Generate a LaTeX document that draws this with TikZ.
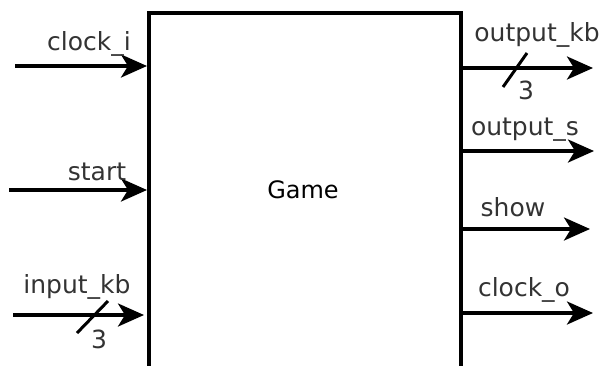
\documentclass[tikz,border=0pt]{standalone}
\usepackage{fontspec}
\setmainfont{DejaVu Sans}
\usetikzlibrary{arrows.meta}
\definecolor{labelgray}{HTML}{333333}
\tikzset{
  sig/.style={line width=3.5pt, -{Stealth[length=26pt,width=23pt,inset=7pt]}},
  lbl/.style={text=labelgray, font=\fontsize{25}{25}\selectfont, inner sep=0pt},
  bus/.style={line width=3pt},
  gamebox/.style={draw, line width=3.5pt, minimum width=312pt, minimum height=400pt, inner sep=0pt},
}
\begin{document}
\begin{tikzpicture}[x=1pt,y=-1pt]
\path[use as bounding box, clip] (0,0) rectangle (601,365);
\node[gamebox, anchor=north west] (game) at (147,11) {};
\node[font=\fontsize{24}{24}\selectfont, inner sep=0pt] (gamelbl) at (303,190) {Game};
% inputs
\coordinate (ci) at (15,66);
\coordinate (st) at (9,190);
\coordinate (ik) at (13,315);
\draw[sig] (ci) -- (ci -| game.west);
\draw[sig] (st) -- (st -| game.west);
\draw[sig] (ik) -- ([xshift=-3pt]ik -| game.west);
\node[lbl] (lci) at (89,44) {clock\_i};
\node[lbl] (lst) at (97,172) {start};
\node[lbl] (lik) at (77,287) {input\_kb};
\coordinate (iks1) at (77,333);
\coordinate (iks2) at (108,301);
\draw[bus] (iks1) -- (iks2);
\node[lbl] (ikn) at (99,339) {3};
% outputs
\coordinate (ok) at (593,68);
\coordinate (os) at (594,151);
\coordinate (sh) at (590,229);
\coordinate (co) at (593,313);
\draw[sig] (ok -| game.east) -- (ok);
\draw[sig] (os -| game.east) -- (os);
\draw[sig] (sh -| game.east) -- (sh);
\draw[sig] (co -| game.east) -- (co);
\node[lbl] (lok) at (537,35) {output\_kb};
\node[lbl] (los) at (525,130) {output\_s};
\node[lbl] (lsh) at (513,207) {show};
\node[lbl] (lco) at (524,290) {clock\_o};
\coordinate (oks1) at (503,87);
\coordinate (oks2) at (527,53);
\draw[bus] (oks1) -- (oks2);
\node[lbl] (okn) at (526,90) {3};
\end{tikzpicture}
\end{document}
